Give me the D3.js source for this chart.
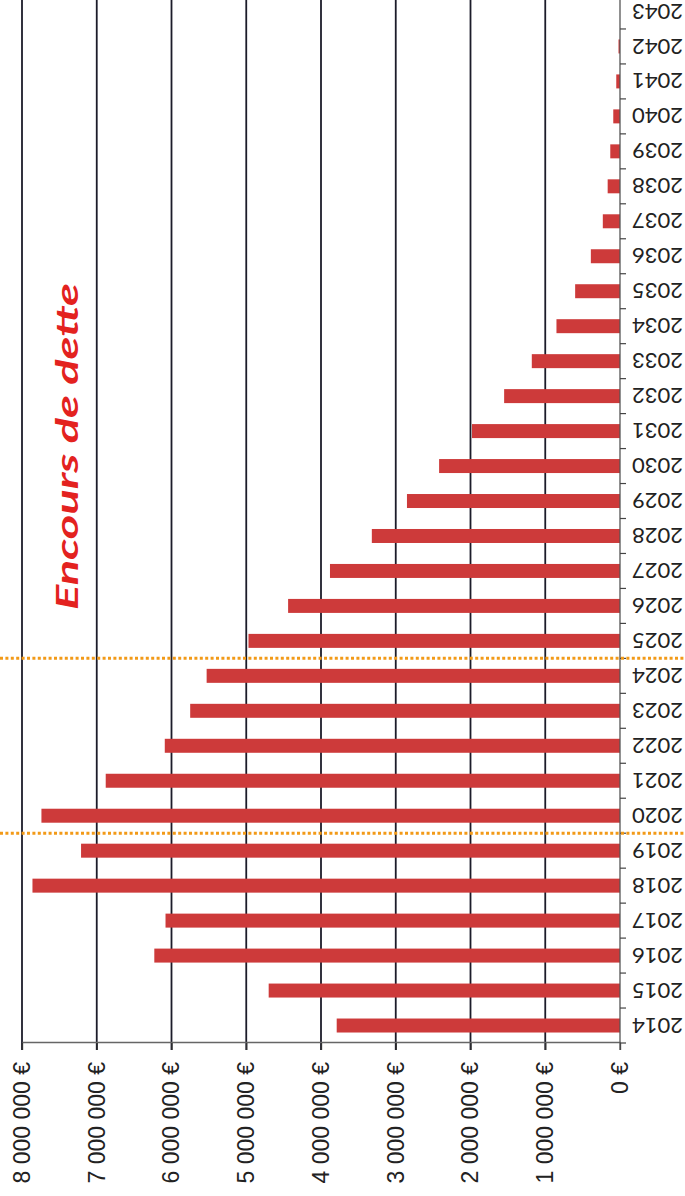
<!DOCTYPE html>
<html>
<head>
<meta charset="utf-8">
<script src="https://cdnjs.cloudflare.com/ajax/libs/d3/7.8.5/d3.min.js"></script>
<style>
  body { margin: 0; background: #fff; }
  svg { display: block; }
</style>
</head>
<body>
<script>
/* chart is drawn upright, then the whole group is turned a quarter turn like the scanned page */

var years = ["2014", "2015", "2016", "2017", "2018", "2019", "2020", "2021", "2022", "2023",
             "2024", "2025", "2026", "2027", "2028", "2029", "2030", "2031", "2032", "2033",
             "2034", "2035", "2036", "2037", "2038", "2039", "2040", "2041", "2042", "2043"];

var debt = [3790000, 4700000, 6230000, 6080000, 7860000, 7210000, 7740000, 6880000, 6090000, 5750000,
            5530000, 4970000, 4440000, 3880000, 3320000, 2850000, 2420000, 1980000, 1550000, 1180000,
            850000, 600000, 390000, 230000, 165000, 130000, 90000, 50000, 20000, 0];

var valueTicks = [0, 1000000, 2000000, 3000000, 4000000, 5000000, 6000000, 7000000, 8000000];
var tickLabels = ["0 €", "1 000 000 €", "2 000 000 €", "3 000 000 €", "4 000 000 €",
                  "5 000 000 €", "6 000 000 €", "7 000 000 €", "8 000 000 €"];

// dotted separators sit just before these years
var markerYears = ["2020", "2025"];

var title = "Encours de dette";

document.addEventListener("DOMContentLoaded", function() {

  var width = 685;
  var height = 1196;

  var svg = d3.select("body")
    .append("svg")
      .attr("width", width)
      .attr("height", height);

  var chart = svg.append("g")
      .attr("transform", "translate(0," + height + ") rotate(-90)");

  var xScale = d3.scaleBand()
                 .domain(years)
                 .range([153, 1202])
                 .paddingInner(0.6)
                 .paddingOuter(0.3);

  var yScale = d3.scaleLinear()
                 .domain([0, 8000000])
                 .range([620, 22]);

  var boundary = d => xScale(d) - xScale.step() * xScale.paddingInner() / 2;

  // gridlines
  chart.selectAll("line.grid")
    .data(valueTicks.slice(1))
    .enter()
    .append("line")
      .attr("class", "grid")
      .attr("x1", 146)
      .attr("x2", 1202)
      .attr("y1", d => yScale(d))
      .attr("y2", d => yScale(d))
      .attr("stroke", "#1c1c2a")
      .attr("stroke-width", 1.8);

  // value axis
  var yAxis = d3.axisLeft(yScale)
                .tickValues(valueTicks)
                .tickFormat((d, i) => tickLabels[i])
                .tickSize(7)
                .tickSizeOuter(0)
                .tickPadding(12);

  var yG = chart.append("g")
      .attr("transform", "translate(153,0)")
      .call(yAxis);

  yG.select(".domain").attr("stroke", "#666").attr("stroke-width", 1.5);
  yG.selectAll(".tick line").attr("stroke", "#333").attr("stroke-width", 1.3);
  yG.selectAll(".tick text")
      .attr("fill", "#222")
      .style("font-family", "'Liberation Sans', Arial, sans-serif")
      .style("font-size", "23px");

  // bars
  chart.selectAll("rect.bar")
    .data(years)
    .enter()
    .append("rect")
      .attr("class", "bar")
      .attr("x", d => xScale(d))
      .attr("width", xScale.bandwidth())
      .attr("y", (d, i) => yScale(debt[i]))
      .attr("height", (d, i) => yScale(0) - yScale(debt[i]))
      .attr("fill", "#cd3a3a");

  // category axis
  var xAxis = d3.axisBottom(xScale)
                .tickSize(0)
                .tickSizeOuter(0);

  var xG = chart.append("g")
      .attr("transform", "translate(0,620)")
      .call(xAxis);

  xG.select(".domain").remove();
  xG.selectAll(".tick text")
      .attr("transform", "rotate(-90)")
      .attr("x", -12)
      .attr("y", 0)
      .attr("dy", "0.36em")
      .attr("fill", "#222")
      .style("text-anchor", "end")
      .style("font-family", "Lato, 'Open Sans', sans-serif")
      .style("font-size", "22px");

  xG.append("line")
      .attr("x1", 146)
      .attr("x2", 1202)
      .attr("stroke", "#555")
      .attr("stroke-width", 1.3);

  xG.selectAll("line.sep")
    .data(years)
    .enter()
    .append("line")
      .attr("class", "sep")
      .attr("x1", d => boundary(d))
      .attr("x2", d => boundary(d))
      .attr("y1", 0)
      .attr("y2", 6)
      .attr("stroke", "#444")
      .attr("stroke-width", 1.2);

  // dotted period markers
  chart.selectAll("line.marker")
    .data(markerYears)
    .enter()
    .append("line")
      .attr("class", "marker")
      .attr("x1", d => boundary(d))
      .attr("x2", d => boundary(d))
      .attr("y1", 0)
      .attr("y2", width)
      .attr("stroke", "#f29a18")
      .attr("stroke-width", 3)
      .attr("stroke-dasharray", "3,2.4");

  // title
  chart.append("text")
      .text(title)
      .attr("x", 586)
      .attr("y", 78)
      .attr("textLength", 327)
      .attr("lengthAdjust", "spacingAndGlyphs")
      .attr("fill", "#e3221f")
      .style("font-family", "Lato, 'Open Sans', sans-serif")
      .style("font-weight", "bold")
      .style("font-style", "italic")
      .style("font-size", "30px");
});
</script>
</body>
</html>
